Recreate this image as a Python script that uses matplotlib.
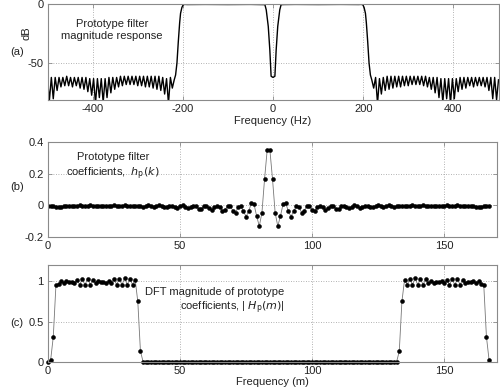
import numpy as np
import matplotlib
matplotlib.use('Agg')
import matplotlib.pyplot as plt

plt.rcParams['font.family'] = ['Liberation Sans', 'DejaVu Sans']
plt.rcParams['axes.unicode_minus'] = False

# ---- (a) magnitude response, dB ----
f_stop_left = np.linspace(-500, -219, 67)
db_stop_left = [-64, -81, -62, -80, -62, -73, -62, -70, -62, -69, -61, -69, -62, -70,
                -62, -69, -62, -71, -62, -72, -62, -74, -63, -77, -63, -84, -63, -79,
                -63, -83, -63, -79, -62, -75, -62, -72, -62, -70, -61, -69, -61, -68,
                -61, -68, -61, -68, -61, -69, -61, -69, -61, -70, -61, -70, -61, -71,
                -61, -72, -61, -73, -62, -76, -63, -84, -62, -71, -64]
f_pass = [-216, -213, -210, -207, -205, -202, -199, -195, -190, -150, -100, -50, -25,
          -18, -15, -10.5, -7, -4.2, 0, 4.2, 7, 10.5, 15, 18, 25, 50, 100, 150, 190,
          195, 199, 202, 205, 207, 210, 213, 216]
db_pass = [-60, -50, -32, -16, -8, -3, -0.6, -0.4, -0.5, -0.4, -0.5, -0.4, -0.5,
           -0.6, -5, -19, -39, -61, -62, -61, -39, -19, -5, -0.6, -0.5, -0.4, -0.5,
           -0.4, -0.5, -0.4, -0.6, -3, -8, -16, -32, -50, -60]
f_stop_right = np.linspace(219, 500, 67)
db_stop_right = [-64, -71, -62, -84, -63, -76, -62, -73, -61, -72, -61, -71, -61, -70,
                 -61, -70, -61, -69, -61, -69, -61, -68, -61, -68, -61, -68, -61, -69,
                 -61, -70, -62, -72, -62, -75, -62, -79, -63, -83, -63, -80, -63, -84,
                 -63, -80, -63, -74, -62, -72, -62, -71, -62, -69, -62, -70, -62, -69,
                 -62, -69, -62, -70, -62, -73, -62, -80, -62, -81, -64]

# ---- (b) prototype filter coefficients h_p(k) ----
hp = [-0.001, -0.003, -0.005, -0.007, -0.008, -0.008, -0.005, -0.002, -0.001, -0.003,
      -0.004, -0.002, 0.000, -0.002, -0.004, -0.003, 0.000, -0.002, -0.004, -0.004,
      -0.001, -0.001, -0.004, -0.005, -0.002, 0.000, -0.003, -0.006, -0.004, 0.000,
      -0.002, -0.006, -0.006, -0.001, -0.001, -0.006, -0.008, -0.003, 0.000, -0.005,
      -0.010, -0.006, 0.000, -0.004, -0.010, -0.010, -0.002, -0.002, -0.010, -0.014,
      -0.006, 0.000, -0.008, -0.018, -0.012, -0.002, -0.006, -0.020, -0.020, -0.004,
      -0.002, -0.018, -0.028, -0.012, -0.002, -0.012, -0.034, -0.028, -0.004, -0.006,
      -0.032, -0.045, -0.008, -0.006, -0.036, -0.070, -0.036, 0.015, 0.008, -0.067,
      -0.130, -0.046, 0.167, 0.350,
      0.350, 0.167, -0.046, -0.130, -0.067, 0.008, 0.015, -0.036, -0.070, -0.036,
      -0.006, -0.008, -0.045, -0.032, -0.006, -0.004, -0.028, -0.034, -0.012, -0.002,
      -0.012, -0.028, -0.018, -0.002, -0.004, -0.020, -0.020, -0.006, -0.002, -0.012,
      -0.018, -0.008, 0.000, -0.006, -0.014, -0.010, -0.002, -0.002, -0.010, -0.010,
      -0.004, 0.000, -0.006, -0.010, -0.005, 0.000, -0.003, -0.008, -0.006, -0.001,
      -0.001, -0.006, -0.006, -0.002, 0.000, -0.004, -0.006, -0.003, 0.000, -0.002,
      -0.005, -0.004, -0.001, -0.001, -0.004, -0.004, -0.002, 0.000, -0.003, -0.004,
      -0.002, 0.000, -0.002, -0.004, -0.003, -0.001, -0.002, -0.005, -0.008, -0.008,
      -0.007, -0.005, -0.003, -0.001]
k = np.arange(len(hp))

# ---- (c) DFT magnitude |H_p(m)| ----
Hm = ([0.00, 0.02, 0.31, 0.95, 0.97, 1.00, 0.985, 1.00, 0.99, 0.995, 0.985,
       1.02, 0.96, 1.03, 0.955, 1.035, 0.96, 1.02, 0.975, 1.00, 0.99, 0.995,
       0.985, 1.00, 0.975, 1.025, 0.96, 1.035, 0.955, 1.04, 0.96, 1.03, 0.96,
       1.02, 0.75, 0.13]
      + [0.0] * 97 +
      [0.13, 0.75, 1.02, 0.96, 1.03, 0.96, 1.04, 0.955, 1.035, 0.96, 1.025,
       0.975, 1.00, 0.985, 0.995, 0.99, 1.00, 0.975, 1.02, 0.96, 1.035, 0.955,
       1.03, 0.96, 1.02, 0.985, 0.995, 0.99, 1.00, 0.985, 1.00, 0.97, 0.95,
       0.31, 0.02])
m = np.arange(len(Hm))

grid_kw = dict(color='#9a9a9a', linestyle=(0, (1, 2)), linewidth=0.6)
txt_col = '#222222'
dot_kw = dict(color='#777777', linewidth=0.6, marker='o', markersize=2.8,
              markerfacecolor='black', markeredgecolor='black', markeredgewidth=0.4)


def style(ax):
    for s in ax.spines.values():
        s.set_color('#8a8a8a')
        s.set_linewidth(0.8)
    ax.tick_params(direction='in', length=3, width=0.6, color='#8a8a8a',
                   labelsize=8, labelcolor=txt_col, top=True, right=True, pad=3)
    ax.grid(True, **grid_kw)
    ax.set_axisbelow(True)


fig = plt.figure(figsize=(5.0, 3.92), dpi=100)
ax1 = fig.add_axes([0.095, 0.745, 0.902, 0.245])
ax2 = fig.add_axes([0.096, 0.3946, 0.898, 0.2439])
ax3 = fig.add_axes([0.096, 0.0773, 0.898, 0.2459])

# (a)
freq = np.concatenate([f_stop_left, f_pass, f_stop_right])
mag = db_stop_left + db_pass + db_stop_right
ax1.plot(freq, mag, color='black', linewidth=1.0)
ax1.set_xlim(-500, 500)
ax1.set_ylim(-81, 0)
ax1.set_xticks([-400, -200, 0, 200, 400])
ax1.set_yticks([-50, 0])
style(ax1)
ax1.set_xlabel('Frequency (Hz)', fontsize=8, color=txt_col, labelpad=1)
ax1.set_ylabel('dB', fontsize=8, color=txt_col)
ax1.yaxis.set_label_coords(-0.035, 0.7)
ax1.text(-357, -22, 'Prototype filter\nmagnitude response', ha='center', va='center',
         fontsize=8, color=txt_col, linespacing=1.3)

# (b)
ax2.plot(k, hp, **dot_kw)
ax2.set_xlim(0, 170)
ax2.set_ylim(-0.2, 0.4)
ax2.set_xticks([0, 50, 100, 150])
ax2.set_yticks([-0.2, 0, 0.2, 0.4])
ax2.set_yticklabels(['-0.2', '0', '0.2', '0.4'])
style(ax2)
ax2.text(24.5, 0.24, 'Prototype filter\ncoefficients,  $h_{\\rm p}(k)$', ha='center',
         va='center', fontsize=8, color=txt_col, linespacing=1.3)

# (c)
ax3.plot(m, Hm, clip_on=False, **dot_kw)
ax3.set_xlim(0, 170)
ax3.set_ylim(0, 1.2)
ax3.set_xticks([0, 50, 100, 150])
ax3.set_yticks([0, 0.5, 1])
ax3.set_yticklabels(['0', '0.5', '1'])
style(ax3)
ax3.set_xlabel('Frequency (m)', fontsize=8, color=txt_col, labelpad=1)
ax3.text(89.5, 0.75, 'DFT magnitude of prototype\ncoefficients, | $H_{\\rm p}(m)$|',
         ha='right', va='center', multialignment='right', fontsize=8, color=txt_col,
         linespacing=1.3)

fig.text(0.02, 1 - 52 / 392, '(a)', fontsize=8, color=txt_col, va='center')
fig.text(0.02, 1 - 187 / 392, '(b)', fontsize=8, color=txt_col, va='center')
fig.text(0.02, 1 - 323 / 392, '(c)', fontsize=8, color=txt_col, va='center')

fig.savefig('out.png', dpi=100)
